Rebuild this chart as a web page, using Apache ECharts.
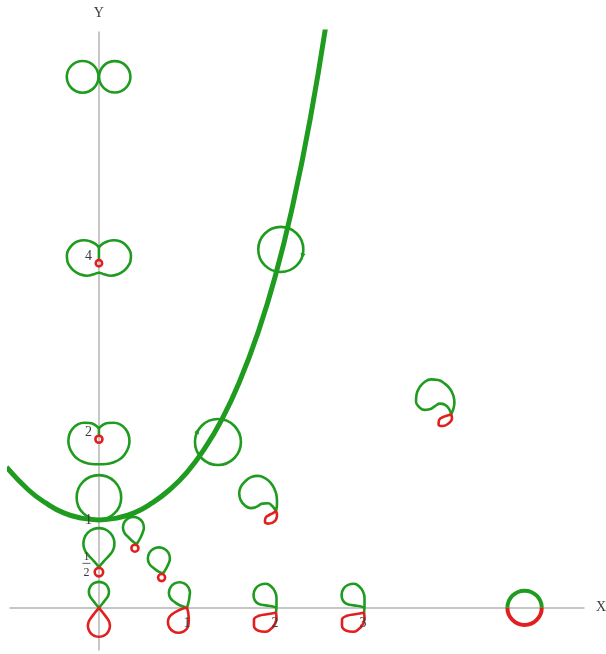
<!DOCTYPE html>
<html>
<head>
<meta charset="utf-8">
<script src="https://cdn.jsdelivr.net/npm/echarts@6/dist/echarts.min.js"></script>
<style>
  html, body { margin: 0; padding: 0; background: #ffffff; }
  #chart { width: 606px; height: 654px; }
</style>
</head>
<body>
<div id="chart"></div>
<script>
// ---- axis extents ----
const xRange = [-1.01, 5.51];
const yRange = [-0.48, 6.55];

// ---- tick labels ----
const xTickValues = [1, 2, 3];
const xTickLabels = ['1', '2', '3'];
const yTickValues = [0.5, 1, 2, 4];
const yTickLabels = ['1/2', '1', '2', '4'];

// ---- the catenary ----
const catenaryX = [-1.05, -0.8, -0.6, -0.4, -0.2, 0, 0.2, 0.4, 0.6, 0.8, 1.0, 1.2, 1.4, 1.6, 1.8, 2.0, 2.2, 2.4, 2.6];
const catenaryY = [1.60, 1.34, 1.19, 1.08, 1.02, 1.00, 1.02, 1.08, 1.19, 1.34, 1.54, 1.81, 2.15, 2.58, 3.11, 3.76, 4.57, 5.56, 6.77];

// ---- round glyphs: [cx, cy, r] ----
const greenCircles = [
  [-0.185, 6.04, 0.18], [0.18, 6.04, 0.178],   // figure eight
  [0, 1.256, 0.253],                            // circle resting on y = 1
  [1.352, 1.886, 0.261], [2.066, 4.077, 0.256]  // circles on the catenary
];
const redRings = [
  [0, 3.92, 0.036], [0, 1.917, 0.04], [0, 0.406, 0.048],
  [0.409, 0.678, 0.04], [0.712, 0.344, 0.04]
];
const splitCircles = [[4.835, 0, 0.195]];
// [cx, cy, r, angle in degrees] — direction marks on the catenary circles
const circleArrows = [[1.352, 1.886, 0.261, 153], [2.066, 4.077, 0.256, -15]];

// ---- outlined glyphs: anchor + offsets ----
const peanutAt = [0, 3.92];
const peanutOutline = [[0,0.182],[-0.045,0.222],[-0.102,0.25],[-0.17,0.261],[-0.239,0.25],[-0.295,0.216],[-0.341,0.159],[-0.364,0.091],[-0.358,0.023],[-0.33,-0.034],[-0.284,-0.085],[-0.216,-0.125],[-0.136,-0.142],[-0.057,-0.125],[0,-0.108],[0.057,-0.125],[0.136,-0.142],[0.216,-0.125],[0.284,-0.085],[0.33,-0.034],[0.358,0.023],[0.364,0.091],[0.341,0.159],[0.295,0.216],[0.239,0.25],[0.17,0.261],[0.102,0.25],[0.045,0.222],[0,0.182]];
const peanutStem = [[0,0.182],[0,0.036]];

const heartAt = [0, 1.917];
const heartOutline = [[0,0.125],[-0.045,0.165],[-0.102,0.185],[-0.17,0.188],[-0.239,0.17],[-0.295,0.125],[-0.335,0.057],[-0.347,-0.023],[-0.335,-0.091],[-0.301,-0.159],[-0.244,-0.222],[-0.17,-0.261],[-0.085,-0.281],[0,-0.284],[0.085,-0.281],[0.17,-0.261],[0.244,-0.222],[0.301,-0.159],[0.335,-0.091],[0.347,-0.023],[0.335,0.057],[0.295,0.125],[0.239,0.17],[0.17,0.188],[0.102,0.185],[0.045,0.165],[0,0.125]];
const heartStem = [[0,0.125],[0,0.04]];

const dropAt = [0, 0.406];
const dropOutline = [[0,0.057],[-0.057,0.125],[-0.135,0.21],[-0.166,0.264],[-0.176,0.324],[-0.166,0.384],[-0.125,0.449],[-0.06,0.49],[0,0.5],[0.06,0.49],[0.125,0.449],[0.166,0.384],[0.176,0.324],[0.166,0.264],[0.135,0.21],[0.057,0.125],[0,0.057]];

const originAt = [0, 0];
const originUpper = [[0,0],[-0.043,0.052],[-0.089,0.111],[-0.107,0.143],[-0.114,0.182],[-0.107,0.22],[-0.081,0.263],[-0.039,0.289],[0,0.295],[0.039,0.289],[0.081,0.263],[0.107,0.22],[0.114,0.182],[0.107,0.143],[0.089,0.111],[0.043,0.052],[0,0]];
const originLower = [[0,0],[-0.048,-0.059],[-0.099,-0.128],[-0.117,-0.161],[-0.125,-0.205],[-0.117,-0.248],[-0.089,-0.293],[-0.043,-0.322],[0,-0.33],[0.043,-0.322],[0.089,-0.293],[0.117,-0.248],[0.125,-0.205],[0.117,-0.161],[0.099,-0.128],[0.048,-0.059],[0,0]];

const tiltAAt = [0.409, 0.678];
const tiltAOutline = [[0.019,0.045],[0.063,0.119],[0.089,0.182],[0.102,0.236],[0.086,0.296],[0.043,0.34],[-0.017,0.356],[-0.077,0.34],[-0.12,0.296],[-0.136,0.236],[-0.12,0.177],[-0.096,0.147],[-0.04,0.091],[0.019,0.045]];
const tiltBAt = [0.712, 0.344];
const tiltBOutline = [[0.018,0.05],[0.051,0.102],[0.078,0.157],[0.094,0.218],[0.078,0.281],[0.032,0.326],[-0.031,0.343],[-0.093,0.326],[-0.139,0.281],[-0.156,0.218],[-0.139,0.156],[-0.09,0.108],[-0.034,0.068],[0.018,0.05]];

const unitAt = [1, 0];
const unitUpper = [[0,0],[0.02,0.074],[0.031,0.145],[0.034,0.17],[0.018,0.23],[-0.026,0.274],[-0.085,0.29],[-0.145,0.274],[-0.189,0.23],[-0.205,0.17],[-0.189,0.111],[-0.135,0.062],[-0.068,0.023],[0,0]];
const unitLower = [[0,0],[0.017,-0.074],[0.021,-0.148],[0.007,-0.224],[-0.037,-0.268],[-0.097,-0.284],[-0.156,-0.268],[-0.2,-0.224],[-0.216,-0.165],[-0.2,-0.105],[-0.139,-0.053],[-0.068,-0.017],[0,0]];

const hookAts = [[2, 0], [3, 0]];
const hookUpper = [[0.011,-0.057],[0.017,0.023],[0.017,0.114],[0,0.182],[-0.04,0.239],[-0.102,0.273],[-0.17,0.261],[-0.222,0.216],[-0.244,0.148],[-0.227,0.08],[-0.176,0.04],[-0.102,0.028],[-0.034,0.017],[0.017,0]];
const hookLower = [[0.011,-0.057],[0.017,-0.114],[0,-0.182],[-0.045,-0.239],[-0.114,-0.273],[-0.188,-0.261],[-0.239,-0.205],[-0.239,-0.136],[-0.182,-0.091],[-0.091,-0.074],[0.011,-0.057]];

const curlMAt = [2.0, 1.1];
const curlMUpper = [[0.011,0],[0.023,0.08],[0.02,0.159],[-0.006,0.25],[-0.051,0.324],[-0.114,0.375],[-0.193,0.401],[-0.273,0.386],[-0.341,0.335],[-0.39,0.273],[-0.406,0.199],[-0.39,0.125],[-0.341,0.063],[-0.273,0.034],[-0.205,0.051],[-0.142,0.085],[-0.08,0.089],[-0.028,0.055],[0.011,0]];
const curlMLower = [[0.011,0],[0.023,-0.045],[0.011,-0.097],[-0.028,-0.131],[-0.08,-0.142],[-0.114,-0.119],[-0.108,-0.08],[-0.068,-0.045],[-0.023,-0.023],[0.011,0]];

const curlNAt = [4.0, 2.2];
const curlNUpper = [[0,0],[0.028,0.068],[0.038,0.136],[0.025,0.216],[-0.011,0.29],[-0.074,0.352],[-0.148,0.392],[-0.227,0.398],[-0.301,0.369],[-0.358,0.307],[-0.392,0.227],[-0.398,0.148],[-0.364,0.085],[-0.307,0.052],[-0.244,0.059],[-0.182,0.095],[-0.125,0.123],[-0.068,0.108],[-0.023,0.063],[0,0]];
const curlNLower = [[0,0],[0.011,-0.045],[-0.023,-0.098],[-0.091,-0.132],[-0.142,-0.114],[-0.136,-0.064],[-0.08,-0.026],[0,0]];

// ---- styling ----
const GREEN = '#1f9c1f';
const RED = '#e21f1f';
const AXIS_GRAY = '#b4b4b4';
const TEXT = '#3a3a3a';
const SERIF = '"Liberation Serif", "DejaVu Serif", serif';

const paths = [
  { at: peanutAt, pts: peanutOutline, color: GREEN },
  { at: peanutAt, pts: peanutStem, color: GREEN },
  { at: heartAt, pts: heartOutline, color: GREEN },
  { at: heartAt, pts: heartStem, color: GREEN },
  { at: dropAt, pts: dropOutline, color: GREEN },
  { at: originAt, pts: originUpper, color: GREEN },
  { at: originAt, pts: originLower, color: RED },
  { at: tiltAAt, pts: tiltAOutline, color: GREEN },
  { at: tiltBAt, pts: tiltBOutline, color: GREEN },
  { at: unitAt, pts: unitUpper, color: GREEN },
  { at: unitAt, pts: unitLower, color: RED },
  { at: curlMAt, pts: curlMUpper, color: GREEN },
  { at: curlMAt, pts: curlMLower, color: RED },
  { at: curlNAt, pts: curlNUpper, color: GREEN },
  { at: curlNAt, pts: curlNLower, color: RED }
];
hookAts.forEach(function (at) {
  paths.push({ at: at, pts: hookUpper, color: GREEN });
  paths.push({ at: at, pts: hookLower, color: RED });
});

const pathSeries = paths.map(function (p) {
  return {
    type: 'line',
    data: p.pts.map(function (d) { return [p.at[0] + d[0], p.at[1] + d[1]]; }),
    smooth: 0.5,
    symbol: 'none',
    silent: true,
    lineStyle: { color: p.color, width: 2.6, cap: 'round', join: 'round' },
    z: 3
  };
});

function ringRenderer(color, width) {
  return function (params, api) {
    const c = api.coord([api.value(0), api.value(1)]);
    const r = api.size([api.value(2), 0])[0];
    return {
      type: 'circle',
      shape: { cx: c[0], cy: c[1], r: r },
      style: { fill: 'none', stroke: color, lineWidth: width }
    };
  };
}

const chart = echarts.init(document.getElementById('chart'), null, { renderer: 'canvas' });

chart.setOption({
  animation: false,
  backgroundColor: '#ffffff',
  grid: { left: 10, right: 22, top: 32, bottom: 4, containLabel: false, outerBoundsMode: 'none' },
  xAxis: {
    type: 'value', min: xRange[0], max: xRange[1],
    name: 'X', nameLocation: 'end', nameGap: 12,
    nameTextStyle: { fontFamily: SERIF, fontSize: 14, color: TEXT, verticalAlign: 'middle' },
    axisLine: { show: true, onZero: true, lineStyle: { color: AXIS_GRAY, width: 1.5 } },
    axisTick: { show: false }, axisLabel: { show: false }, splitLine: { show: false }
  },
  yAxis: {
    type: 'value', min: yRange[0], max: yRange[1],
    name: 'Y', nameLocation: 'end', nameGap: 12,
    nameTextStyle: { fontFamily: SERIF, fontSize: 14, color: TEXT },
    axisLine: { show: true, onZero: true, lineStyle: { color: AXIS_GRAY, width: 1.5 } },
    axisTick: { show: false }, axisLabel: { show: false }, splitLine: { show: false }
  },
  series: pathSeries.concat([
    {
      type: 'custom', silent: true, z: 3,
      data: greenCircles,
      renderItem: ringRenderer(GREEN, 2.6)
    },
    {
      type: 'custom', silent: true, z: 4,
      data: redRings,
      renderItem: ringRenderer(RED, 2.6)
    },
    {
      type: 'custom', silent: true, z: 3,
      data: splitCircles,
      renderItem: function (params, api) {
        const c = api.coord([api.value(0), api.value(1)]);
        const r = api.size([api.value(2), 0])[0];
        return {
          type: 'group',
          children: [
            { type: 'arc', shape: { cx: c[0], cy: c[1], r: r, startAngle: Math.PI, endAngle: 2 * Math.PI, clockwise: true },
              style: { fill: 'none', stroke: GREEN, lineWidth: 4 } },
            { type: 'arc', shape: { cx: c[0], cy: c[1], r: r, startAngle: 0, endAngle: Math.PI, clockwise: true },
              style: { fill: 'none', stroke: RED, lineWidth: 4 } }
          ]
        };
      }
    },
    {
      type: 'custom', silent: true, z: 4,
      data: circleArrows,
      renderItem: function (params, api) {
        const a = api.value(3) * Math.PI / 180;
        const r = api.value(2);
        const p = api.coord([api.value(0) + r * Math.cos(a), api.value(1) + r * Math.sin(a)]);
        // clockwise travel on screen: tangent in screen coordinates
        const tx = Math.sin(a), ty = Math.cos(a);
        const nx = -ty, ny = tx;
        return {
          type: 'polygon',
          shape: { points: [
            [p[0] + tx * 4, p[1] + ty * 4],
            [p[0] - tx * 2 + nx * 2.5, p[1] - ty * 2 + ny * 2.5],
            [p[0] - tx * 2 - nx * 2.5, p[1] - ty * 2 - ny * 2.5]
          ] },
          style: { fill: GREEN }
        };
      }
    },
    {
      type: 'line',
      data: catenaryX.map(function (x, i) { return [x, catenaryY[i]]; }),
      smooth: true,
      symbol: 'none',
      silent: true,
      clip: true,
      lineStyle: { color: GREEN, width: 5 },
      z: 5
    },
    {
      type: 'custom', silent: true, z: 6,
      data: xTickValues.map(function (v) { return [v, 0]; }),
      renderItem: function (params, api) {
        const p = api.coord([api.value(0), api.value(1)]);
        return {
          type: 'text', x: p[0], y: p[1] + 16,
          style: { text: xTickLabels[params.dataIndex], fill: TEXT, font: '14px ' + SERIF, align: 'center', verticalAlign: 'middle' }
        };
      }
    },
    {
      type: 'custom', silent: true, z: 6,
      data: yTickValues.map(function (v) { return [0, v]; }),
      renderItem: function (params, api) {
        const p = api.coord([api.value(0), api.value(1)]);
        const label = yTickLabels[params.dataIndex];
        const parts = label.split('/');
        if (parts.length === 2) {
          const cx = p[0] - 12.5;
          return {
            type: 'group',
            children: [
              { type: 'text', x: cx, y: p[1] - 7.5,
                style: { text: parts[0], fill: TEXT, font: '12px ' + SERIF, align: 'center', verticalAlign: 'middle' } },
              { type: 'line', shape: { x1: cx - 4, y1: p[1] - 0.5, x2: cx + 4, y2: p[1] - 0.5 },
                style: { stroke: TEXT, lineWidth: 0.8 } },
              { type: 'text', x: cx, y: p[1] + 8.5,
                style: { text: parts[1], fill: TEXT, font: '12px ' + SERIF, align: 'center', verticalAlign: 'middle' } }
            ]
          };
        }
        return {
          type: 'text', x: p[0] - 7, y: p[1],
          style: { text: label, fill: TEXT, font: '14px ' + SERIF, align: 'right', verticalAlign: 'middle' }
        };
      }
    }
  ])
});
</script>
</body>
</html>
